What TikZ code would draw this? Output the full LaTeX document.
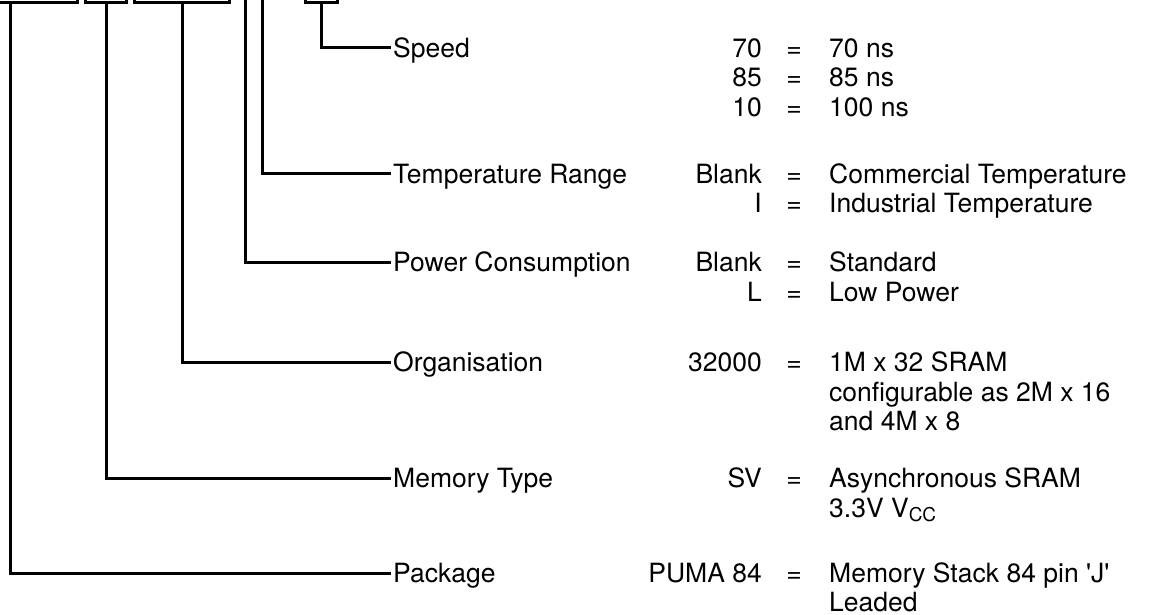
\documentclass[tikz,border=0pt]{standalone}
\usepackage{fontspec}
\setmainfont{TeX Gyre Heros}
\begin{document}
\begin{tikzpicture}[x=1pt,y=-1pt,
  ln/.style={line width=3pt},
  boxx/.style={draw,line width=3pt,inner sep=0pt,minimum height=40pt,anchor=south},
  txt/.style={inner xsep=2pt,inner ysep=0pt,text height=19pt,text depth=0pt,
    font=\fontsize{26.5}{29}\selectfont},
  lbl/.style={txt,anchor=west},
  code/.style={txt,anchor=east},
  eqs/.style={txt,anchor=center},
  val/.style={txt,anchor=west}]
\useasboundingbox (0,0) rectangle (1163,615);
\fill[white] (0,0) rectangle (1163,615);
\begin{scope}
\clip (0,0) rectangle (1163,615);
% part-number boxes (cut at top)
\node[boxx,minimum width=134pt] (b1) at (10,4) {};
\node[boxx,minimum width=41pt] (b2) at (106,4) {};
\node[boxx,minimum width=95pt] (b3) at (182,4) {};
\coordinate (b5) at (245,-10);
\coordinate (b6) at (262,-10);
\node[boxx,minimum width=32pt] (b4) at (321,4) {};

% labels
\node[lbl] (speed) at (391,48) {Speed};
\node[lbl] (temp)  at (391,174) {Temperature Range};
\node[lbl] (power) at (391,262) {Power Consumption};
\node[lbl] (org)   at (391,362) {Organisation};
\node[lbl] (mem)   at (391,478) {Memory Type};
\node[lbl] (pkg)   at (391,573) {Package};

% connectors
\draw[ln] (b4.south) |- (speed.west);
\draw[ln] (b6) |- (temp.west);
\draw[ln] (b5) |- (power.west);
\draw[ln] (b3.south) |- (org.west);
\draw[ln] (b2.south) |- (mem.west);
\draw[ln] (b1.south) |- (pkg.west);
\end{scope}

% codes, equals, values
\node[code] (c1) at (764,48) {70};   \node[eqs] (e1) at (794,48) {=};   \node[val] (v1) at (827,48) {70 ns};
\node[code] (c2) at (764,77.5) {85}; \node[eqs] (e2) at (794,77.5) {=}; \node[val] (v2) at (827,77.5) {85 ns};
\node[code] (c3) at (764,107) {10};  \node[eqs] (e3) at (794,107) {=};  \node[val] (v3) at (827,107) {100 ns};

\node[code] (c4) at (764,174) {Blank};   \node[eqs] (e4) at (794,174) {=};   \node[val] (v4) at (827,174) {Commercial Temperature};
\node[code] (c5) at (764,203.5) {I};     \node[eqs] (e5) at (794,203.5) {=}; \node[val] (v5) at (827,203.5) {Industrial Temperature};

\node[code] (c6) at (764,262) {Blank};   \node[eqs] (e6) at (794,262) {=};   \node[val] (v6) at (827,262) {Standard};
\node[code] (c7) at (764,291.5) {L};     \node[eqs] (e7) at (794,291.5) {=}; \node[val] (v7) at (827,291.5) {Low Power};

\node[code] (c8) at (764,362) {32000};   \node[eqs] (e8) at (794,362) {=};   \node[val] (v8) at (827,362) {1M x 32 SRAM};
\node[val] (v9) at (827,391.5) {configurable as 2M x 16};
\node[val] (v10) at (827,421) {and 4M x 8};

\node[code] (c11) at (764,478) {SV};     \node[eqs] (e11) at (794,478) {=};  \node[val] (v11) at (827,478) {Asynchronous SRAM};
\node[val] (v12) at (827,507.5) {3.3V V\raisebox{-0.3ex}{\fontsize{19}{19}\selectfont CC}};

\node[code] (c13) at (764,573) {PUMA 84}; \node[eqs] (e13) at (794,573) {=}; \node[val] (v13) at (827,573) {Memory Stack 84 pin \textquotesingle J\textquotesingle};
\node[val] (v14) at (827,601.5) {Leaded};
\end{tikzpicture}
\end{document}
